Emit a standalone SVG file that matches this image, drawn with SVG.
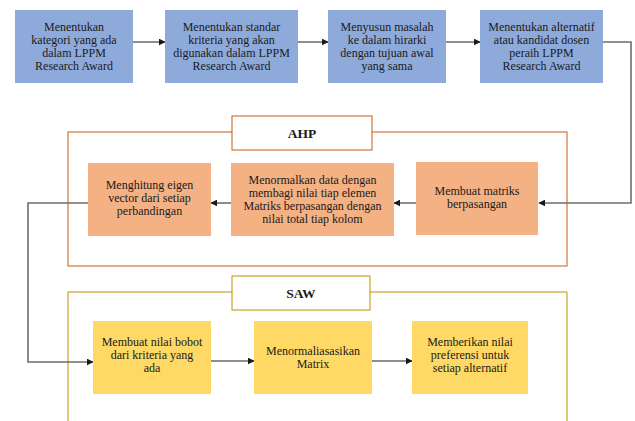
<svg xmlns="http://www.w3.org/2000/svg" width="635" height="421" viewBox="0 0 635 421" font-family="Liberation Serif, Times New Roman, serif">
<defs>
<style>
text{font-family:"Liberation Serif","Times New Roman",serif;font-size:12px;fill:#1a1a1a;text-anchor:middle}
.t{font-weight:bold;font-size:13.5px}
.blue{fill:#8eaadb}
.org{fill:#f4b183}
.yel{fill:#ffd966}
.c{fill:none;stroke:#1a1a1a;stroke-width:1;marker-end:url(#ah)}
.g{fill:none;stroke:#6e6e6e;stroke-width:1.6;marker-end:url(#ah)}
</style>
<marker id="ah" viewBox="0 0 10 10" refX="9" refY="5" markerWidth="7" markerHeight="7" markerUnits="userSpaceOnUse" orient="auto"><path d="M0,0 L10,5 L0,10 z" fill="#1a1a1a"/></marker>
</defs>
<rect width="635" height="421" fill="#fff"/>
<g id="ahp-container">
<rect x="68" y="132" width="499" height="134" fill="none" stroke="#c55a11" stroke-width="1"/>
<rect x="232" y="116" width="140" height="34" fill="#fff" stroke="#c55a11" stroke-width="1"/>
<text class="t" x="302" y="138">AHP</text>
</g>
<g id="saw-container">
<path d="M68,430 V292 H567 V430" fill="none" stroke="#bf9000" stroke-width="1"/>
<rect x="232" y="276" width="138" height="34" fill="#fff" stroke="#bf9000" stroke-width="1"/>
<text class="t" x="301" y="298">SAW</text>
</g>
<g id="connectors">
<path class="c" d="M133,42 H165"/>
<path class="c" d="M298,42 H328"/>
<path class="c" d="M446,42 H480"/>
<path class="g" d="M603,42 H631 V203 H539"/>
<path class="c" d="M416,203 H394"/>
<path class="c" d="M231,203 H211"/>
<path class="g" d="M88,203 H28 V362 H93"/>
<path class="c" d="M211,361 H254"/>
<path class="c" d="M372,361 H412"/>
</g>
<g id="n1"><rect class="blue" x="15" y="10" width="118" height="73"/>
<text x="74" y="30.5">Menentukan</text><text x="74" y="43.7">kategori yang ada</text><text x="74" y="56.9">dalam LPPM</text><text x="74" y="70.1">Research Award</text></g>
<g id="n2"><rect class="blue" x="165" y="10" width="133" height="73"/>
<text x="231.5" y="30.5">Menentukan standar</text><text x="231.5" y="43.7">kriteria yang akan</text><text x="231.5" y="56.9">digunakan dalam LPPM</text><text x="231.5" y="70.1">Research Award</text></g>
<g id="n3"><rect class="blue" x="328" y="10" width="118" height="73"/>
<text x="387" y="30.5">Menyusun masalah</text><text x="387" y="43.7">ke dalam hirarki</text><text x="387" y="56.9">dengan tujuan awal</text><text x="387" y="70.1">yang sama</text></g>
<g id="n4"><rect class="blue" x="480" y="10" width="123" height="73"/>
<text x="541.5" y="30.5">Menentukan alternatif</text><text x="541.5" y="43.7">atau kandidat dosen</text><text x="541.5" y="56.9">peraih LPPM</text><text x="541.5" y="70.1">Research Award</text></g>
<g id="n5"><rect class="org" x="416" y="162" width="122" height="73"/>
<text x="477" y="195">Membuat matriks</text><text x="477" y="208.2">berpasangan</text></g>
<g id="n6"><rect class="org" x="231" y="163" width="163" height="73"/>
<text x="312.5" y="183.5">Menormalkan data dengan</text><text x="312.5" y="196.7">membagi nilai tiap elemen</text><text x="312.5" y="209.9">Matriks berpasangan dengan</text><text x="312.5" y="223.1">nilai total tiap kolom</text></g>
<g id="n7"><rect class="org" x="88" y="163" width="123" height="73"/>
<text x="149.5" y="189">Menghitung eigen</text><text x="149.5" y="202.2">vector dari setiap</text><text x="149.5" y="215.4">perbandingan</text></g>
<g id="n8"><rect class="yel" x="93" y="321" width="118" height="73"/>
<text x="152" y="346">Membuat nilai bobot</text><text x="152" y="359.2">dari kriteria yang</text><text x="152" y="372.4">ada</text></g>
<g id="n9"><rect class="yel" x="254" y="321" width="118" height="73"/>
<text x="313" y="355">Menormaliasasikan</text><text x="313" y="368.2">Matrix</text></g>
<g id="n10"><rect class="yel" x="412" y="321" width="116" height="73"/>
<text x="470" y="346">Memberikan nilai</text><text x="470" y="359.2">preferensi untuk</text><text x="470" y="372.4">setiap alternatif</text></g>
</svg>
